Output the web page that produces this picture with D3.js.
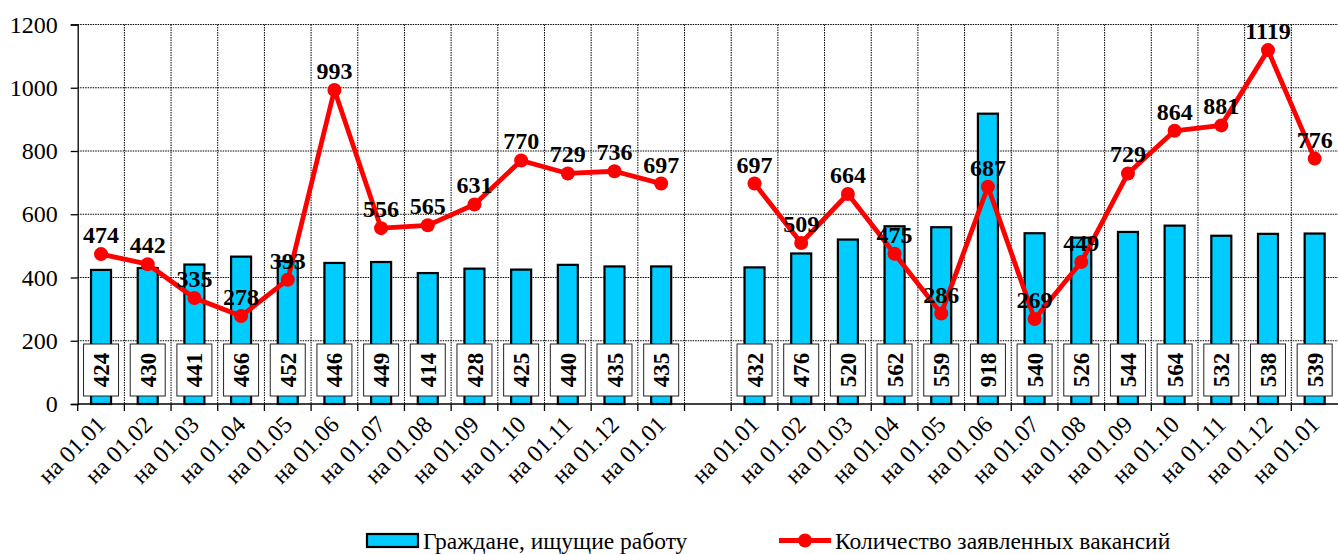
<!DOCTYPE html>
<html>
<head>
<meta charset="utf-8">
<script src="https://cdn.jsdelivr.net/npm/d3@7"></script>
</head>
<body style="margin:0;background:#fff">
<div id="chart"></div>
<script>
// month labels, same for both years
var months = ["на 01.01", "на 01.02", "на 01.03", "на 01.04", "на 01.05", "на 01.06",
    "на 01.07", "на 01.08", "на 01.09", "на 01.10", "на 01.11", "на 01.12", "на 01.01"];

// Граждане, ищущие работу
var seekers1 = [424, 430, 441, 466, 452, 446, 449, 414, 428, 425, 440, 435, 435];
var seekers2 = [432, 476, 520, 562, 559, 918, 540, 526, 544, 564, 532, 538, 539];

// Количество заявленных вакансий
var vacancies1 = [474, 442, 335, 278, 393, 993, 556, 565, 631, 770, 729, 736, 697];
var vacancies2 = [697, 509, 664, 475, 286, 687, 269, 449, 729, 864, 881, 1119, 776];

var yTicks = [0, 200, 400, 600, 800, 1000, 1200];

var seriesNames = ["Граждане, ищущие работу", "Количество заявленных вакансий"];

var W = 1338, H = 554;
var margin = { top: 24.5, right: 0, bottom: 150, left: 77.7 };
var FONT = "Liberation Serif";

var svg = d3.select("#chart").append("svg")
    .attr("width", W)
    .attr("height", H)
    .attr("font-family", FONT)
    .style("display", "block");

// one empty slot between the two years
var rows = [];
months.forEach(function (m, i) {
    rows.push({ key: "a" + i, label: m, bar: seekers1[i], line: vacancies1[i], group: 0 });
});
rows.push({ key: "gap", label: "", bar: null, line: null, group: -1 });
months.forEach(function (m, i) {
    rows.push({ key: "b" + i, label: m, bar: seekers2[i], line: vacancies2[i], group: 1 });
});

var x = d3.scaleBand()
    .domain(rows.map(function (d) { return d.key; }))
    .range([margin.left, W - margin.right])
    .padding(0);

var y = d3.scaleLinear()
    .domain([0, 1200])
    .range([404, margin.top]);

var bw = x.bandwidth();
var cx = function (d) { return x(d.key) + bw / 2; };

// horizontal grid
svg.append("g")
    .selectAll("line")
    .data(yTicks.filter(function (t) { return t > 0; }))
    .enter().append("line")
    .attr("x1", margin.left).attr("x2", W)
    .attr("y1", function (t) { return y(t); })
    .attr("y2", function (t) { return y(t); })
    .attr("stroke", "#000")
    .attr("stroke-width", 1)
    .attr("stroke-dasharray", "1.5,1");

// vertical grid at slot boundaries
svg.append("g")
    .selectAll("line")
    .data(rows.slice(1))
    .enter().append("line")
    .attr("x1", function (d) { return x(d.key); })
    .attr("x2", function (d) { return x(d.key); })
    .attr("y1", y(1200)).attr("y2", y(0))
    .attr("stroke", "#000")
    .attr("stroke-width", 1)
    .attr("stroke-dasharray", "1.5,1");

// bars
var barW = 20;
svg.append("g")
    .selectAll("rect")
    .data(rows.filter(function (d) { return d.bar != null; }))
    .enter().append("rect")
    .attr("x", function (d) { return cx(d) - barW / 2; })
    .attr("y", function (d) { return y(d.bar); })
    .attr("width", barW)
    .attr("height", function (d) { return y(0) - y(d.bar); })
    .attr("fill", "#00CCFF")
    .attr("stroke", "#000")
    .attr("stroke-width", 2.2);

// y axis
var yAxis = svg.append("g")
    .attr("transform", "translate(" + margin.left + ",0)")
    .call(d3.axisLeft(y).tickValues(yTicks).tickSize(7).tickPadding(13).tickFormat(d3.format("d")));
yAxis.attr("font-family", FONT).attr("font-size", 24);
yAxis.select(".domain").attr("stroke", "#000").attr("stroke-width", 1.3);
yAxis.selectAll(".tick line").attr("stroke", "#000").attr("stroke-width", 1.3);
yAxis.selectAll("text").attr("fill", "#000");

// x axis line + ticks at boundaries
svg.append("line")
    .attr("x1", margin.left).attr("x2", W)
    .attr("y1", y(0)).attr("y2", y(0))
    .attr("stroke", "#000").attr("stroke-width", 1.5);
svg.append("g")
    .selectAll("line")
    .data(rows)
    .enter().append("line")
    .attr("x1", function (d) { return x(d.key); })
    .attr("x2", function (d) { return x(d.key); })
    .attr("y1", y(0)).attr("y2", y(0) + 7)
    .attr("stroke", "#000").attr("stroke-width", 1.3);

// x labels, rotated
svg.append("g")
    .selectAll("text")
    .data(rows.filter(function (d) { return d.label; }))
    .enter().append("text")
    .attr("transform", function (d) { return "translate(" + (cx(d) + 6) + "," + (y(0) + 22) + ") rotate(-45)"; })
    .attr("text-anchor", "end")
    .attr("font-family", FONT)
    .attr("font-size", "24px")
    .attr("fill", "#000")
    .text(function (d) { return d.label; });

// value boxes on bars
var boxW = 35, boxH = 52;
var boxes = svg.append("g")
    .selectAll("g")
    .data(rows.filter(function (d) { return d.bar != null; }))
    .enter().append("g")
    .attr("transform", function (d) { return "translate(" + cx(d) + "," + (y(0) - 8 - boxH / 2) + ")"; });
boxes.append("rect")
    .attr("x", -boxW / 2).attr("y", -boxH / 2)
    .attr("width", boxW).attr("height", boxH)
    .attr("fill", "#fff")
    .attr("stroke", "#222")
    .attr("stroke-width", 1);
boxes.append("text")
    .attr("transform", "rotate(-90)")
    .attr("text-anchor", "middle")
    .attr("dy", "0.35em")
    .attr("font-family", FONT)
    .attr("font-size", "23px")
    .attr("font-weight", "bold")
    .attr("fill", "#000")
    .text(function (d) { return d.bar; });

// vacancies line, broken between the years
var line = d3.line()
    .x(cx)
    .y(function (d) { return y(d.line); });
[0, 1].forEach(function (g) {
    var pts = rows.filter(function (d) { return d.group === g; });
    svg.append("path")
        .datum(pts)
        .attr("d", line)
        .attr("fill", "none")
        .attr("stroke", "#FF0000")
        .attr("stroke-width", 4.8)
        .attr("stroke-linejoin", "round");
});
var withLine = rows.filter(function (d) { return d.line != null; });
svg.append("g")
    .selectAll("circle")
    .data(withLine)
    .enter().append("circle")
    .attr("cx", cx)
    .attr("cy", function (d) { return y(d.line); })
    .attr("r", 7)
    .attr("fill", "#FF0000");

svg.append("g")
    .selectAll("text")
    .data(withLine)
    .enter().append("text")
    .attr("x", cx)
    .attr("y", function (d) { return y(d.line) - 11; })
    .attr("text-anchor", "middle")
    .attr("font-family", FONT)
    .attr("font-size", "24px")
    .attr("font-weight", "bold")
    .attr("fill", "#000")
    .text(function (d) { return d.line; });

// legend
var lg = svg.append("g").attr("transform", "translate(0,540.5)");
lg.append("rect")
    .attr("x", 367).attr("y", -6.5)
    .attr("width", 51).attr("height", 13)
    .attr("fill", "#00CCFF")
    .attr("stroke", "#000")
    .attr("stroke-width", 2.2);
lg.append("text")
    .attr("x", 423).attr("y", 8)
    .attr("font-family", FONT)
    .attr("font-size", "23.5px")
    .attr("fill", "#000")
    .text(seriesNames[0]);
lg.append("line")
    .attr("x1", 779).attr("x2", 831)
    .attr("y1", 0).attr("y2", 0)
    .attr("stroke", "#FF0000").attr("stroke-width", 4.8);
lg.append("circle")
    .attr("cx", 805).attr("cy", 0).attr("r", 7)
    .attr("fill", "#FF0000");
lg.append("text")
    .attr("x", 835).attr("y", 8)
    .attr("font-family", FONT)
    .attr("font-size", "23.5px")
    .attr("fill", "#000")
    .text(seriesNames[1]);
</script>
</body>
</html>
